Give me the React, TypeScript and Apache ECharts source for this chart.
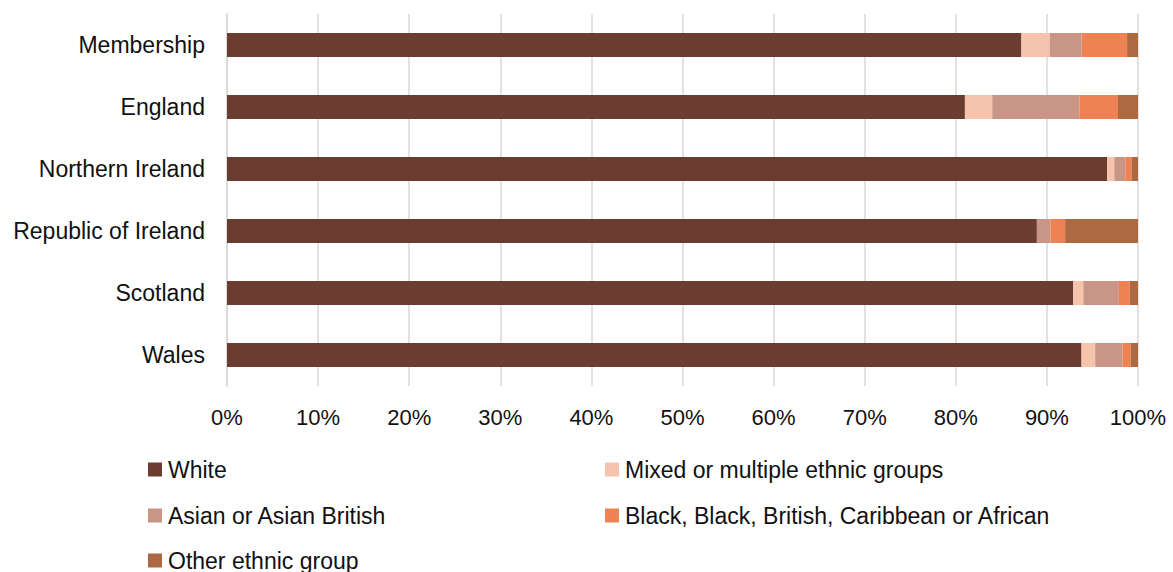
import React, { useEffect, useRef } from "react";
import * as echarts from "echarts";

const categories = ["Membership", "England", "Northern Ireland", "Republic of Ireland", "Scotland", "Wales"];
const seriesNames = [
  "White",
  "Mixed or multiple ethnic groups",
  "Asian or Asian British",
  "Black, Black, British, Caribbean or African",
  "Other ethnic group",
];
const white = [87.2, 81.0, 96.6, 88.9, 92.9, 93.8];
const mixed = [3.1, 3.0, 0.8, 0, 1.1, 1.5];
const asian = [3.5, 9.6, 1.2, 1.5, 3.9, 3.0];
const black = [5.0, 4.2, 0.7, 1.6, 1.2, 0.9];
const other = [1.2, 2.2, 0.7, 8.0, 0.9, 0.8];
const colors = ["#6B3D30", "#F6C4AC", "#C89586", "#EE8253", "#AD6942"];
const xTicks = [0, 10, 20, 30, 40, 50, 60, 70, 80, 90, 100];

const FONT = "'Liberation Sans', Arial, sans-serif";

export default function App() {
  const ref = useRef<HTMLDivElement>(null);
  useEffect(() => {
    document.body.style.margin = "0";
    if (!ref.current) return;
    const chart = echarts.init(ref.current, null, { renderer: "svg" });
    const values = [white, mixed, asian, black, other];
    const legendPos = [
      { left: 148, top: 458 },
      { left: 605, top: 458 },
      { left: 148, top: 504 },
      { left: 605, top: 504 },
      { left: 148, top: 549 },
    ];
    chart.setOption({
      animation: false,
      textStyle: { fontFamily: FONT },
      grid: { left: 227, right: 35, top: 14, bottom: 186, containLabel: false },
      xAxis: {
        type: "value",
        min: xTicks[0],
        max: xTicks[xTicks.length - 1],
        interval: 10,
        axisLine: { show: false },
        axisTick: { show: false },
        splitLine: { show: true, lineStyle: { color: "#D9D9D9", width: 1.5 } },
        axisLabel: {
          formatter: "{value}%",
          fontSize: 22,
          color: "#111",
          margin: 20,
          fontFamily: FONT,
        },
      },
      yAxis: {
        type: "category",
        data: categories,
        inverse: true,
        axisLine: { show: true, lineStyle: { color: "#D9D9D9", width: 1.5 } },
        axisTick: { show: false },
        axisLabel: { fontSize: 23, color: "#111", margin: 22, fontFamily: FONT },
      },
      legend: seriesNames.map((n, i) => ({
        data: [n],
        left: legendPos[i].left,
        top: legendPos[i].top,
        padding: 0,
        icon: "rect",
        itemWidth: 14,
        itemHeight: 14,
        selectedMode: false,
        textStyle: { fontSize: 23, color: "#111", fontFamily: FONT, padding: [0, 0, 0, 1] },
      })),
      series: seriesNames.map((n, i) => ({
        name: n,
        type: "bar",
        stack: "total",
        barWidth: 24,
        data: values[i],
        itemStyle: { color: colors[i] },
      })),
    });
    return () => chart.dispose();
  }, []);
  return <div ref={ref} style={{ width: 1173, height: 572 }} />;
}
